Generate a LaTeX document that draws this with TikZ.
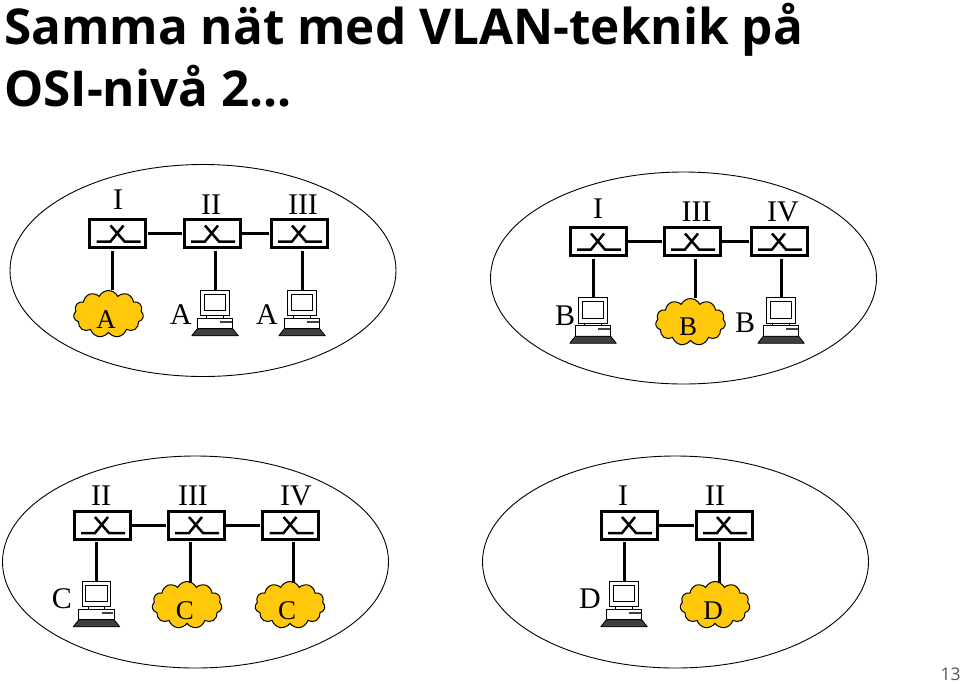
\documentclass[tikz,border=0pt]{standalone}
\usepackage{fontspec}
\setmainfont{Liberation Serif}
\newfontfamily\titlefont{Open Sans}
\newfontfamily\pagefont{Open Sans}
\usepackage{xcolor}
\usetikzlibrary{
  shapes.geometric,
  shapes.symbols,
  positioning
}
\definecolor{netYellow}{HTML}{FFC80A}
\definecolor{pageGray}{HTML}{555555}
\newcommand{\swglyph}{
  \draw[line width=2.5pt, shift={(path picture bounding box.center)}]
    (-21,8) -- (-7,8) -- (6,-8) (-7,-8) -- (7,8) -- (23,8);
}
\newcommand{\pcglyph}{
  \begin{scope}[shift={(path picture bounding box.center)}, line width=0.8pt]
    \draw[fill=white] (-14.3,-23.5) rectangle (14.3,2);
    \draw[fill=white] (-10.7,-19.3) rectangle (10.7,-2.7);
    \draw[fill=white] (-8.3,2) rectangle (8.3,4.7);
    \draw[fill=white] (-17.7,4.7) rectangle (17.7,15.3);
    \fill[black!75] (5,7.3) rectangle (16.7,9);
    \draw[fill=black!75] (-17.7,15.3) -- (17.7,15.3) -- (23.3,22.3) -- (-23.3,22.3) -- cycle;
  \end{scope}
}
\tikzset{
  title/.style={font=\titlefont\bfseries\fontsize{49.4}{50}\selectfont, anchor=base west, inner sep=0pt},
  vlan/.style={draw, line width=0.9pt, ellipse, minimum width=386pt, minimum height=212pt},
  switchbox/.style={draw, line width=3pt, minimum width=56pt, minimum height=28pt, inner sep=0pt, path picture={\swglyph}},
  pc/.style={minimum width=47pt, minimum height=47pt, inner sep=0pt, path picture={\pcglyph}},
  lan/.style={cloud, cloud puffs=11, cloud puff arc=130, aspect=1.5, draw, line width=1pt, fill=netYellow, minimum width=70pt, minimum height=47pt, inner sep=0pt},
  tag/.style={font=\fontsize{30}{30}\selectfont, inner sep=0pt},
  lantag/.style={font=\fontsize{27}{27}\selectfont, inner sep=0pt},
  link/.style={line width=3pt, shorten <=1.5pt},
  hlink/.style={line width=3pt, shorten <=0.6pt, shorten >=0.6pt}
}
\begin{document}
\begin{tikzpicture}[x=1pt, y=-1pt]
  \useasboundingbox (0,0) rectangle (960,683);
  \node[title] (title1) at (4,44) {Samma nät med VLAN-teknik på};
  \node[title] (title2) at (4,106) {OSI-nivå 2...};
  \node[font=\pagefont\fontsize{17.5}{18}\selectfont, text=pageGray, inner sep=0pt] (page) at (950.5,674) {13};

  \node[vlan] (netA) at (203,270.5) {};
  \node[switchbox] (a1) at (117.5,233.5) {};
  \node[switchbox, right=35.5pt of a1] (a2) {};
  \node[switchbox, right=28pt of a2] (a3) {};
  \node[tag] (a1t) at (118,200) {I};
  \node[tag] (a2t) at (211,205) {II};
  \node[tag] (a3t) at (303,205) {III};
  \node[lan] (a1c) at (108.5,314) {};
  \node[lantag] (a1l) at (106,320) {A};
  \node[pc] (a2p) at (215,313.5) {};
  \node[tag] (a2l) at (181,315) {A};
  \node[pc] (a3p) at (302,313.5) {};
  \node[tag] (a3l) at (267,315) {A};
  \draw[hlink] (a1) -- (a2);
  \draw[hlink] (a2) -- (a3);
  \draw[link] ([xshift=-5.5pt]a1.south) -- ++(0,41);
  \draw[link] (a2.south -| a2p.north) -- (a2p.north);
  \draw[link] (a3.south -| a3p.north) -- (a3p.north);

  \node[vlan] (netB) at (683.5,278) {};
  \node[switchbox] (b1) at (598,241.5) {};
  \node[switchbox, right=35pt of b1] (b2) {};
  \node[switchbox, right=28pt of b2] (b3) {};
  \node[tag] (b1t) at (598,209) {I};
  \node[tag] (b2t) at (696.5,212) {III};
  \node[tag] (b3t) at (783,212) {IV};
  \node[pc] (b1p) at (593,321) {};
  \node[tag] (b1l) at (565,316) {B};
  \node[lan] (b2c) at (690.5,322) {};
  \node[lantag] (b2l) at (688,327) {B};
  \node[pc] (b3p) at (781,321) {};
  \node[tag] (b3l) at (745,323) {B};
  \draw[hlink] (b1) -- (b2);
  \draw[hlink] (b2) -- (b3);
  \draw[link] (b1.south -| b1p.north) -- (b1p.north);
  \draw[link] ([xshift=3pt]b2.south) -- ++(0,41);
  \draw[link] (b3.south -| b3p.north) -- (b3p.north);

  \node[vlan] (netC) at (195.5,562) {};
  \node[switchbox] (c1) at (102,525) {};
  \node[switchbox, right=35pt of c1] (c2) {};
  \node[switchbox, right=35.5pt of c2] (c3) {};
  \node[tag] (c1t) at (101,495.5) {II};
  \node[tag] (c2t) at (193,495.5) {III};
  \node[tag] (c3t) at (296,495.5) {IV};
  \node[pc] (c1p) at (96.5,604.5) {};
  \node[tag] (c1l) at (62,599) {C};
  \node[lan] (c2c) at (187,605) {};
  \node[lantag] (c2l) at (185,611) {C};
  \node[lan] (c3c) at (290,605) {};
  \node[lantag] (c3l) at (287,611) {C};
  \draw[hlink] (c1) -- (c2);
  \draw[hlink] (c2) -- (c3);
  \draw[link] (c1.south -| c1p.north) -- (c1p.north);
  \draw[link] ([xshift=-5.5pt]c2.south) -- ++(0,42);
  \draw[link] ([xshift=3pt]c3.south) -- ++(0,42);

  \node[vlan] (netD) at (675.5,562) {};
  \node[switchbox] (d1) at (629,525) {};
  \node[switchbox, right=36pt of d1] (d2) {};
  \node[tag] (d1t) at (623,495.5) {I};
  \node[tag] (d2t) at (715,495.5) {II};
  \node[pc] (d1p) at (624,604.5) {};
  \node[tag] (d1l) at (590,599) {D};
  \node[lan] (d2c) at (715,605) {};
  \node[lantag] (d2l) at (713,611) {D};
  \draw[hlink] (d1) -- (d2);
  \draw[link] (d1.south -| d1p.north) -- (d1p.north);
  \draw[link] ([xshift=-5pt]d2.south) -- ++(0,42);
\end{tikzpicture}
\end{document}
